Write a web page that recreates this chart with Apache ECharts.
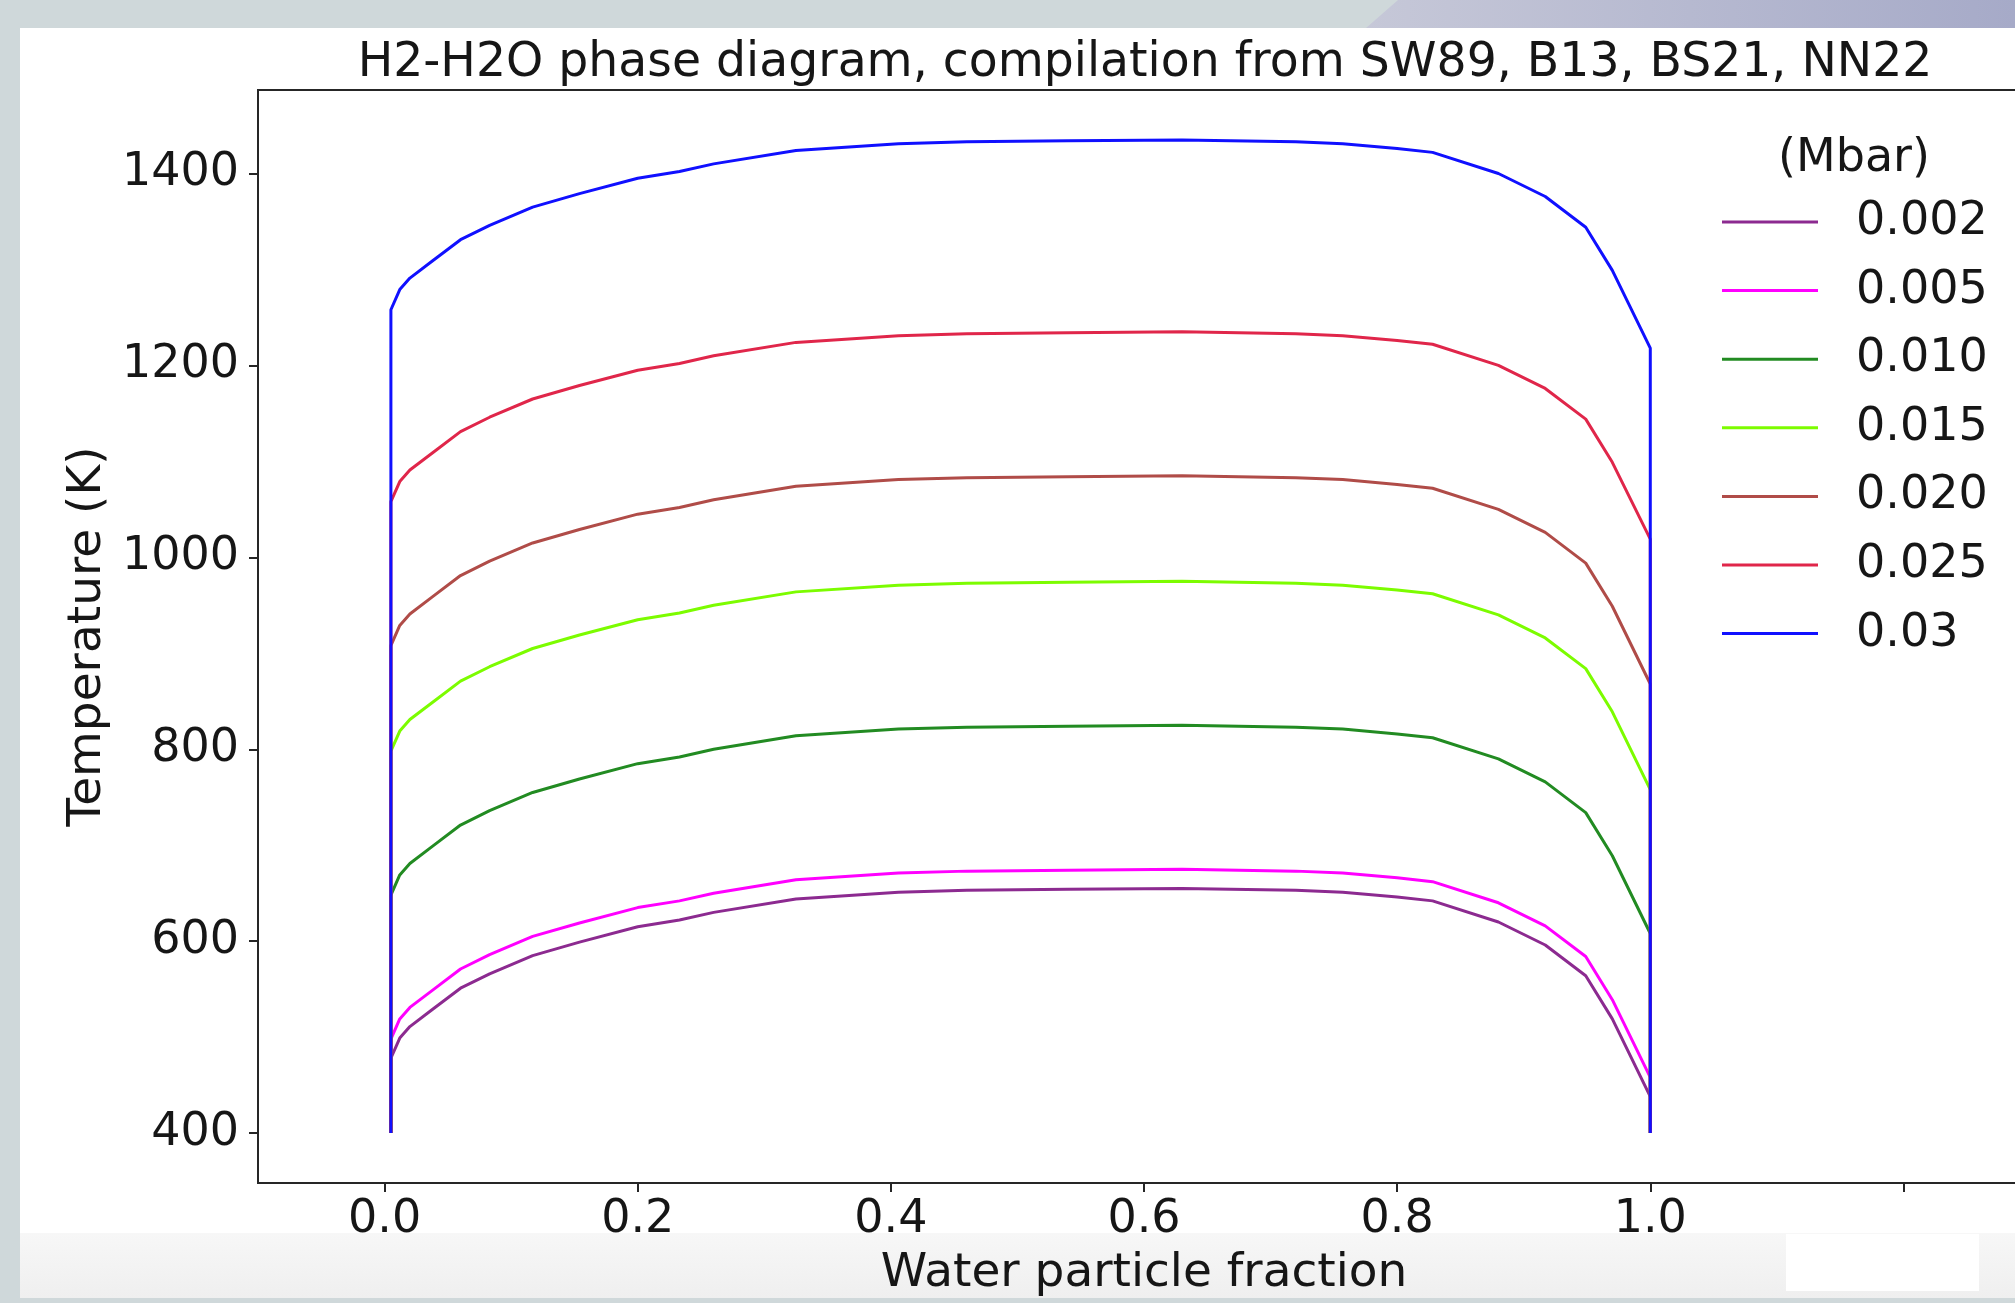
<!DOCTYPE html>
<html>
<head>
<meta charset="utf-8">
<title>H2-H2O phase diagram</title>
<script src="https://cdn.jsdelivr.net/npm/echarts@6/dist/echarts.min.js"></script>
<style>
  html, body { margin: 0; padding: 0; width: 2015px; height: 1303px; overflow: hidden; background: #cfd8da; }
  /* screenshot frame around the figure */
  #shade { position: absolute; left: 1366px; top: 0; width: 649px; height: 28px;
           background: linear-gradient(90deg, #c6c8d8, #a6aac8);
           clip-path: polygon(0 100%, 32px 0, 100% 0, 100% 100%); }
  #panel { position: absolute; left: 20px; top: 28px; width: 1995px; height: 1270px; background: #fff; }
  #band  { position: absolute; left: 20px; top: 1233px; width: 1995px; height: 65px;
           background: linear-gradient(180deg, #f7f7f7, #efefef); }
  #patch { position: absolute; left: 1786px; top: 1234px; width: 193px; height: 57px; background: #fff; }
  /* wider than the window so the axes can run past the right edge, as in the source */
  #chart { position: absolute; left: 0; top: 0; width: 2200px; height: 1303px; }
</style>
</head>
<body>
<div id="shade"></div>
<div id="panel"></div>
<div id="band"></div>
<div id="patch"></div>
<div id="chart"></div>
<script>
// water particle fraction (x) shared by all curves
const waterFraction = [0.005, 0.005, 0.012, 0.02, 0.038, 0.06, 0.083, 0.117, 0.154, 0.2, 0.233, 0.26, 0.325,
  0.406, 0.46, 0.54, 0.63, 0.72, 0.757, 0.8, 0.828, 0.88, 0.917, 0.949, 0.97, 1.0, 1.0];

// temperature (K) per pressure (Mbar)
const temp0002 = [400, 478, 499, 511, 529, 551, 566, 585, 599, 615, 622, 630, 644,
  651, 653, 654, 655, 653, 651, 646, 642, 620, 596, 564, 519, 438, 400];
const temp0005 = [400, 498, 519, 531, 549, 571, 586, 605, 619, 635, 642, 650, 664,
  671, 673, 674, 675, 673, 671, 666, 662, 640, 616, 584, 539, 458, 400];
const temp0010 = [400, 648, 669, 681, 699, 721, 736, 755, 769, 785, 792, 800, 814,
  821, 823, 824, 825, 823, 821, 816, 812, 790, 766, 734, 689, 608, 400];
const temp0015 = [400, 798, 819, 831, 849, 871, 886, 905, 919, 935, 942, 950, 964,
  971, 973, 974, 975, 973, 971, 966, 962, 940, 916, 884, 839, 758, 400];
const temp0020 = [400, 908, 929, 941, 959, 981, 996, 1015, 1029, 1045, 1052, 1060, 1074,
  1081, 1083, 1084, 1085, 1083, 1081, 1076, 1072, 1050, 1026, 994, 949, 868, 400];
const temp0025 = [400, 1058, 1079, 1091, 1109, 1131, 1146, 1165, 1179, 1195, 1202, 1210, 1224,
  1231, 1233, 1234, 1235, 1233, 1231, 1226, 1222, 1200, 1176, 1144, 1099, 1019, 400];
const temp0030 = [400, 1258, 1279, 1291, 1309, 1331, 1346, 1365, 1379, 1395, 1402, 1410, 1424,
  1431, 1433, 1434, 1435, 1433, 1431, 1426, 1422, 1400, 1376, 1344, 1299, 1218, 400];

const pressureNames = ['0.002', '0.005', '0.010', '0.015', '0.020', '0.025', '0.03'];
const tempLists = [temp0002, temp0005, temp0010, temp0015, temp0020, temp0025, temp0030];
const lineColors = ['#8c2a90', '#ff00ff', '#228b22', '#7cfc00', '#b04c48', '#e0264a', '#1010ff'];

const xTickValues = [0, 0.2, 0.4, 0.6, 0.8, 1.0, 1.2];
const xLabelValues = [0, 0.2, 0.4, 0.6, 0.8, 1.0];
const yTickValues = [400, 600, 800, 1000, 1200, 1400];

const fontFamily = "'DejaVu Sans', sans-serif";
const textColor = '#161616';
const frameColor = '#262626';

const myChart = echarts.init(document.getElementById('chart'), null, { renderer: 'canvas' });

const seriesList = pressureNames.map((name, idx) => ({
  name: name,
  type: 'line',
  symbol: 'none',
  smooth: false,
  animation: false,
  color: lineColors[idx],
  lineStyle: { width: 3, color: lineColors[idx] },
  data: tempLists[idx].map((t, i) => [waterFraction[i], t]),
}));

myChart.setOption({
  backgroundColor: 'transparent',
  animation: false,
  title: [
    {
      text: 'H2-H2O phase diagram, compilation from SW89, B13, BS21, NN22',
      left: 1145,
      top: 40,
      padding: 0,
      textAlign: 'center',
      textStyle: { fontFamily: fontFamily, fontSize: 47.3, fontWeight: 'normal', color: textColor },
    },
    {
      text: '(Mbar)',
      left: 1854,
      top: 136,
      padding: 0,
      textAlign: 'center',
      textStyle: { fontFamily: fontFamily, fontSize: 46, fontWeight: 'normal', color: textColor },
    },
  ],
  legend: {
    orient: 'vertical',
    left: 1722,
    top: 199,
    padding: 0,
    icon: 'rect',
    itemWidth: 96,
    itemHeight: 3,
    itemGap: 22.6,
    data: pressureNames,
    textStyle: {
      fontFamily: fontFamily,
      fontSize: 46,
      lineHeight: 46,
      color: textColor,
      padding: [0, 0, 0, 33],
    },
  },
  grid: {
    left: 258,
    top: 90,
    width: 1772,
    height: 1093,
    show: true,
    backgroundColor: 'transparent',
    borderColor: frameColor,
    borderWidth: 2,
  },
  xAxis: {
    type: 'value',
    min: -0.1,
    max: 1.3,
    name: 'Water particle fraction',
    nameLocation: 'middle',
    nameGap: 67,
    nameTextStyle: { fontFamily: fontFamily, fontSize: 47, color: textColor },
    axisLine: { show: false, onZero: false },
    splitLine: { show: false },
    axisTick: { show: true, length: 9, customValues: xTickValues, lineStyle: { color: frameColor, width: 2 } },
    axisLabel: {
      customValues: xLabelValues,
      margin: 14,
      fontFamily: fontFamily,
      fontSize: 46,
      color: textColor,
      formatter: (v) => v.toFixed(1),
    },
  },
  yAxis: {
    type: 'value',
    min: 348,
    max: 1487,
    name: 'Temperature (K)',
    nameLocation: 'middle',
    nameRotate: 90,
    nameGap: 137,
    nameTextStyle: { fontFamily: fontFamily, fontSize: 47, color: textColor },
    axisLine: { show: false, onZero: false },
    splitLine: { show: false },
    axisTick: { show: true, length: 9, customValues: yTickValues, lineStyle: { color: frameColor, width: 2 } },
    axisLabel: {
      customValues: yTickValues,
      margin: 19,
      padding: [11, 0, 0, 0],
      fontFamily: fontFamily,
      fontSize: 46,
      color: textColor,
      formatter: (v) => String(v),
    },
  },
  series: seriesList,
});
</script>
</body>
</html>
